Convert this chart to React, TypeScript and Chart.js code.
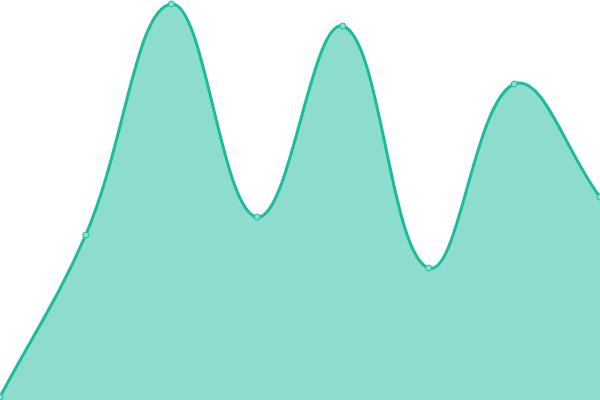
import React, { useEffect, useRef } from "react";
import { Chart, registerables } from "chart.js";

Chart.register(...registerables);

const labels = ["1", "2", "3", "4", "5", "6", "7", "8"];
const values = [3, 165, 396, 183, 374, 132, 316, 203];

export default function App() {
  const ref = useRef<HTMLCanvasElement | null>(null);
  useEffect(() => {
    const chart = new Chart(ref.current!, {
      type: "line",
      data: {
        labels,
        datasets: [
          {
            data: values,
            borderColor: "#1abc9c",
            backgroundColor: "rgba(26,188,156,0.5)",
            borderWidth: 3,
            fill: true,
            tension: 0.4,
            pointRadius: 3,
            pointBorderWidth: 1,
            pointBackgroundColor: "rgba(140,222,206,1)",
            pointBorderColor: "#1abc9c",
          },
        ],
      },
      options: {
        animation: false,
        responsive: false,
        maintainAspectRatio: false,
        layout: { padding: 0, autoPadding: false },
        plugins: { legend: { display: false }, tooltip: { enabled: false } },
        scales: {
          x: { display: false, offset: false },
          y: { display: false, min: 0, max: 400 },
        },
      },
    });
    return () => chart.destroy();
  }, []);
  return (
    <div style={{ position: "fixed", left: 0, top: 0, width: 600, height: 400 }}>
      <canvas ref={ref} width={600} height={400} style={{ display: "block" }} />
    </div>
  );
}
